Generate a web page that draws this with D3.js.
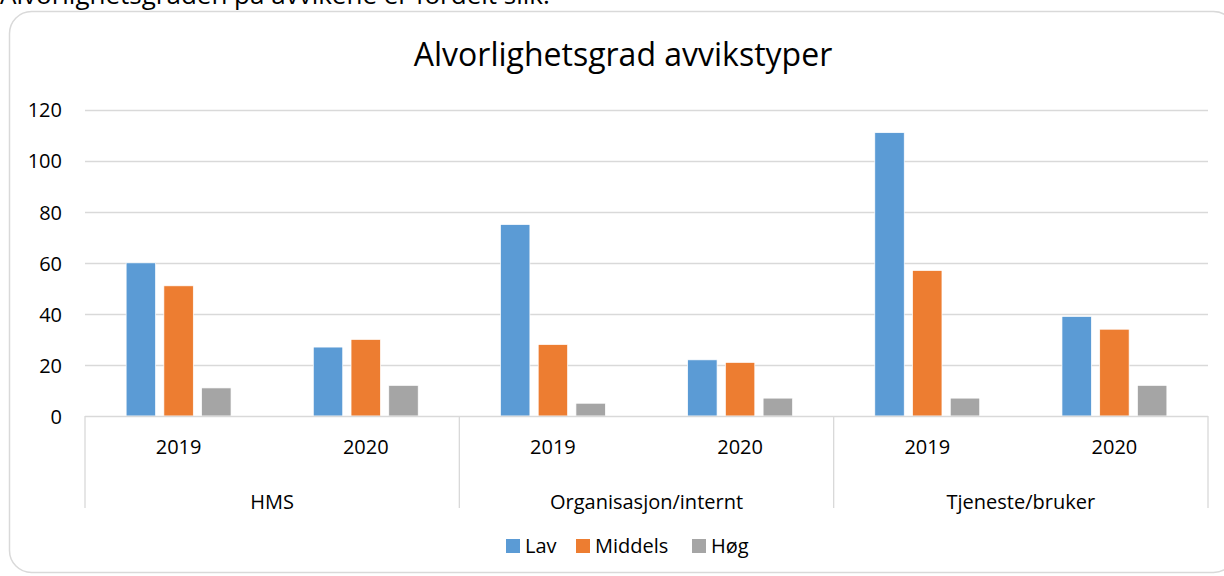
<!DOCTYPE html>
<html>
<head>
<meta charset="utf-8">
<script src="https://cdn.jsdelivr.net/npm/d3@7"></script>
<style>
  body { margin: 0; background: #fff; overflow: hidden; }
  svg { display: block; font-family: "Open Sans", "Noto Sans", sans-serif; }
</style>
</head>
<body>
<script>
const w = 1224
const h = 576

// categories and series
const groups = ["HMS", "Organisasjon/internt", "Tjeneste/bruker"]
const years = ["2019", "2020"]
const seriesNames = ["Lav", "Middels", "Høg"]
const lav = [60, 27, 75, 22, 111, 39]
const middels = [51, 30, 28, 21, 57, 34]
const hoeg = [11, 12, 5, 7, 7, 12]
const yTicks = [0, 20, 40, 60, 80, 100, 120]

const colors = ["#5B9BD5", "#ED7D31", "#A5A5A5"]
const series = [lav, middels, hoeg]

// one row per group/year combination
const rows = []
groups.forEach((g, gi) => {
  years.forEach((y, yi) => {
    const i = gi * years.length + yi
    rows.push({ key: g + "|" + y, group: g, year: y, values: series.map(s => s[i]) })
  })
})

const plot = { left: 85, right: 1208, top: 109.7, bottom: 416 }

const svg = d3.select("body")
  .append("svg")
  .attr("width", w)
  .attr("height", h)

// text above the chart (cut off by the page edge)
svg.append("text")
  .attr("x", 0)
  .attr("y", 4)
  .attr("font-size", 26)
  .attr("fill", "#000")
  .text("Alvorlighetsgraden på avvikene er fordelt slik.")

// chart frame
svg.append("rect")
  .attr("x", 9.5)
  .attr("y", 11.5)
  .attr("width", 1226)
  .attr("height", 561)
  .attr("rx", 22)
  .attr("fill", "#fff")
  .attr("stroke", "#D9D9D9")
  .attr("stroke-width", 1.5)

svg.append("text")
  .attr("x", 623)
  .attr("y", 66)
  .attr("text-anchor", "middle")
  .attr("font-size", 32)
  .attr("fill", "#000")
  .text("Alvorlighetsgrad avvikstyper")

const y = d3.scaleLinear()
  .domain([0, 120])
  .range([plot.bottom, plot.top])

const x0 = d3.scaleBand()
  .domain(rows.map(d => d.key))
  .range([plot.left, plot.right])
  .paddingInner(0)
  .paddingOuter(0)

const x1 = d3.scaleBand()
  .domain(seriesNames)
  .range([0, x0.bandwidth()])
  .paddingOuter(1.09)
  .paddingInner(0.22)

// gridlines
svg.append("g")
  .selectAll("line")
  .data(yTicks.filter(t => t > 0))
  .join("line")
    .attr("x1", plot.left)
    .attr("x2", plot.right)
    .attr("y1", d => Math.round(y(d)) + 0.5)
    .attr("y2", d => Math.round(y(d)) + 0.5)
    .attr("stroke", "#D9D9D9")
    .attr("stroke-width", 1.3)

// y labels
const yAxis = d3.axisLeft(y).tickValues(yTicks).tickSize(0).tickPadding(0)
const yg = svg.append("g")
  .attr("transform", `translate(62,0)`)
  .call(yAxis)
yg.select(".domain").remove()
yg.selectAll("text")
  .attr("font-size", 20)
  .attr("font-family", "'Open Sans', sans-serif")
  .attr("fill", "#000")
  .attr("dy", "0.36em")

// bars
const bars = svg.append("g")
  .selectAll("g")
  .data(rows)
  .join("g")
    .attr("transform", d => `translate(${x0(d.key)},0)`)

bars.selectAll("rect")
  .data(d => d.values.map((v, i) => ({ name: seriesNames[i], value: v, color: colors[i] })))
  .join("rect")
    .attr("x", d => x1(d.name))
    .attr("width", x1.bandwidth())
    .attr("y", d => y(d.value))
    .attr("height", d => y(0) - y(d.value))
    .attr("fill", d => d.color)
    .attr("stroke", "#fff")
    .attr("stroke-width", 0.7)

// category axis: baseline, separators, labels
svg.append("line")
  .attr("x1", plot.left)
  .attr("x2", plot.right)
  .attr("y1", plot.bottom + 0.5)
  .attr("y2", plot.bottom + 0.5)
  .attr("stroke", "#D9D9D9")
  .attr("stroke-width", 1.3)

const groupScale = d3.scaleBand()
  .domain(groups)
  .range([plot.left, plot.right])

const sepX = groups.map(g => groupScale(g)).concat([plot.right])
svg.append("g")
  .selectAll("line")
  .data(sepX)
  .join("line")
    .attr("x1", d => d)
    .attr("x2", d => d)
    .attr("y1", plot.bottom)
    .attr("y2", 508)
    .attr("stroke", "#D9D9D9")
    .attr("stroke-width", 1.3)

svg.append("g")
  .selectAll("text")
  .data(rows)
  .join("text")
    .attr("x", d => x0(d.key) + x0.bandwidth() / 2)
    .attr("y", 454)
    .attr("text-anchor", "middle")
    .attr("font-size", 20)
    .attr("fill", "#000")
    .text(d => d.year)

svg.append("g")
  .selectAll("text")
  .data(groups)
  .join("text")
    .attr("x", d => groupScale(d) + groupScale.bandwidth() / 2)
    .attr("y", 509)
    .attr("text-anchor", "middle")
    .attr("font-size", 20)
    .attr("fill", "#000")
    .text(d => d)

// legend
const legendX = [506, 576, 692]
const legend = svg.append("g")
  .selectAll("g")
  .data(seriesNames)
  .join("g")
    .attr("transform", (d, i) => `translate(${legendX[i]},539)`)
legend.append("rect")
  .attr("width", 14)
  .attr("height", 14)
  .attr("fill", (d, i) => colors[i])
legend.append("text")
  .attr("x", 19)
  .attr("y", 14)
  .attr("font-size", 20)
  .attr("fill", "#000")
  .text(d => d)
</script>
</body>
</html>
